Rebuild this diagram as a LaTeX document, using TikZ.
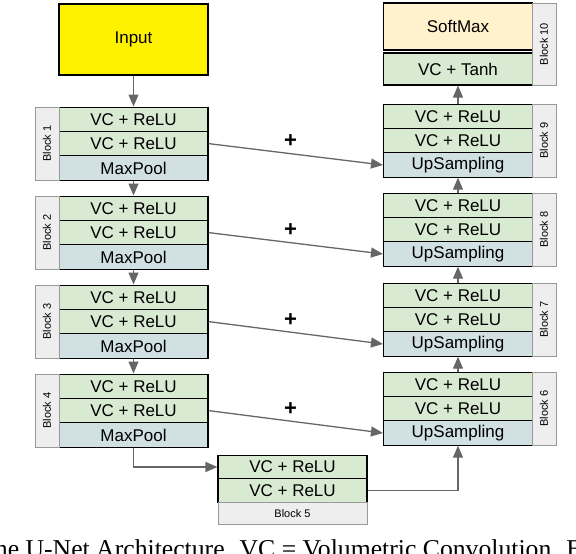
\documentclass[tikz,border=0pt]{standalone}
\usepackage{fontspec}
\setmainfont{Liberation Sans}
\newfontfamily\capfont{Liberation Serif}
\usetikzlibrary{arrows.meta}

\definecolor{vcgreen}{HTML}{D9EAD3}
\definecolor{poolblue}{HTML}{D0E0E3}
\definecolor{tabgrey}{HTML}{EEEEEE}
\definecolor{tabline}{HTML}{999999}
\definecolor{softorange}{HTML}{FFF2CC}
\definecolor{linkgrey}{HTML}{666666}

\begin{document}
\begin{tikzpicture}[x=1pt, y=-1pt,
  layer/.style={draw=black, line width=1.1pt, minimum width=149pt,
    minimum height=24.3pt, inner sep=0pt, font=\fontsize{17}{19}\selectfont},
  vc/.style={layer, fill=vcgreen},
  pool/.style={layer, fill=poolblue},
  tab/.style={draw=tabline, line width=0.9pt, fill=tabgrey, rotate=90,
    minimum height=24pt, inner sep=0pt, font=\fontsize{11}{13}\selectfont},
  link/.style={draw=linkgrey, line width=1.3pt, -{Triangle[length=12pt,width=10pt]}},
  plus/.style={font=\fontsize{22}{22}\selectfont\bfseries, above=2pt, pos=0.47}]

  \newcommand\XL{133.5};
  \newcommand\XR{458};
  \newcommand\XM{292.5};
  \newcommand\TL{47};
  \newcommand\TR{544};

  \useasboundingbox (0,0) rectangle (576,554);
  \clip (0,0) rectangle (576,554);

  % encoder
  \node[layer, fill=yellow, minimum height=71pt] (input) at (\XL, 39.5) {Input};

  \node[vc] (b1a) at (\XL, 119.2) {VC + ReLU};
  \node[vc] (b1b) at (\XL, 143.6) {VC + ReLU};
  \node[pool] (b1p) at (\XL, 168) {MaxPool};
  \node[tab, minimum width=73pt] (t1) at (\TL, 143.5) {Block 1};

  \node[vc] (b2a) at (\XL, 208.2) {VC + ReLU};
  \node[vc] (b2b) at (\XL, 232.6) {VC + ReLU};
  \node[pool] (b2p) at (\XL, 257) {MaxPool};
  \node[tab, minimum width=73pt] (t2) at (\TL, 232.5) {Block 2};

  \node[vc] (b3a) at (\XL, 297.2) {VC + ReLU};
  \node[vc] (b3b) at (\XL, 321.6) {VC + ReLU};
  \node[pool] (b3p) at (\XL, 346) {MaxPool};
  \node[tab, minimum width=73pt] (t3) at (\TL, 321.5) {Block 3};

  \node[vc] (b4a) at (\XL, 386.2) {VC + ReLU};
  \node[vc] (b4b) at (\XL, 410.6) {VC + ReLU};
  \node[pool] (b4p) at (\XL, 435) {MaxPool};
  \node[tab, minimum width=73pt] (t4) at (\TL, 410.5) {Block 4};

  % bottleneck
  \node[vc, minimum height=23.5pt] (b5a) at (\XM, 467) {VC + ReLU};
  \node[vc, minimum height=23.5pt] (b5b) at (\XM, 490.5) {VC + ReLU};
  \node[draw=tabline, line width=0.9pt, fill=tabgrey, minimum width=149pt,
    minimum height=22pt, inner sep=0pt, font=\fontsize{11}{13}\selectfont]
    (t5) at (\XM, 513.5) {Block 5};

  % decoder
  \node[vc] (b6a) at (\XR, 384.2) {VC + ReLU};
  \node[vc] (b6b) at (\XR, 408.6) {VC + ReLU};
  \node[pool] (b6u) at (\XR, 433) {UpSampling};
  \node[tab, minimum width=73pt] (t6) at (\TR, 408.5) {Block 6};

  \node[vc] (b7a) at (\XR, 295.2) {VC + ReLU};
  \node[vc] (b7b) at (\XR, 319.6) {VC + ReLU};
  \node[pool] (b7u) at (\XR, 344) {UpSampling};
  \node[tab, minimum width=73pt] (t7) at (\TR, 319.5) {Block 7};

  \node[vc] (b8a) at (\XR, 205.2) {VC + ReLU};
  \node[vc] (b8b) at (\XR, 229.6) {VC + ReLU};
  \node[pool] (b8u) at (\XR, 254) {UpSampling};
  \node[tab, minimum width=73pt] (t8) at (\TR, 229.5) {Block 8};

  \node[vc] (b9a) at (\XR, 116.2) {VC + ReLU};
  \node[vc] (b9b) at (\XR, 140.6) {VC + ReLU};
  \node[pool] (b9u) at (\XR, 165) {UpSampling};
  \node[tab, minimum width=73pt] (t9) at (\TR, 140.5) {Block 9};

  \node[layer, fill=softorange, minimum height=47pt] (soft) at (\XR, 26.5) {SoftMax};
  \node[vc, minimum height=32pt] (tanh) at (\XR, 69) {VC + Tanh};
  \node[tab, minimum width=82pt] (t10) at (\TR, 44) {Block 10};

  % down path
  \draw[link] (input.south) -- (b1a.north);
  \draw[link] (b1p.south) -- (b2a.north);
  \draw[link] (b2p.south) -- (b3a.north);
  \draw[link] (b3p.south) -- (b4a.north);
  \draw[link] (b4p.south) |- (b5a.west);

  % up path
  \draw[link] (b5b.east) -| (b6u.south);
  \draw[link] (b6a.north) -- (b7u.south);
  \draw[link] (b7a.north) -- (b8u.south);
  \draw[link] (b8a.north) -- (b9u.south);
  \draw[link] (b9a.north) -- (tanh.south);

  % skip connections
  \draw[link] (b1b.east) -- node[plus]{+} (b9u.west);
  \draw[link] (b2b.east) -- node[plus]{+} (b8u.west);
  \draw[link] (b3b.east) -- node[plus]{+} (b7u.west);
  \draw[link] (b4b.east) -- node[plus]{+} (b6u.west);

  \node[overlay, anchor=base west, inner sep=0pt,
    font=\capfont\fontsize{25.7}{28}\selectfont] (caption) at (-21, 557)
    {The U-Net Architecture. VC = Volumetric Convolution. BN};

\end{tikzpicture}
\end{document}
